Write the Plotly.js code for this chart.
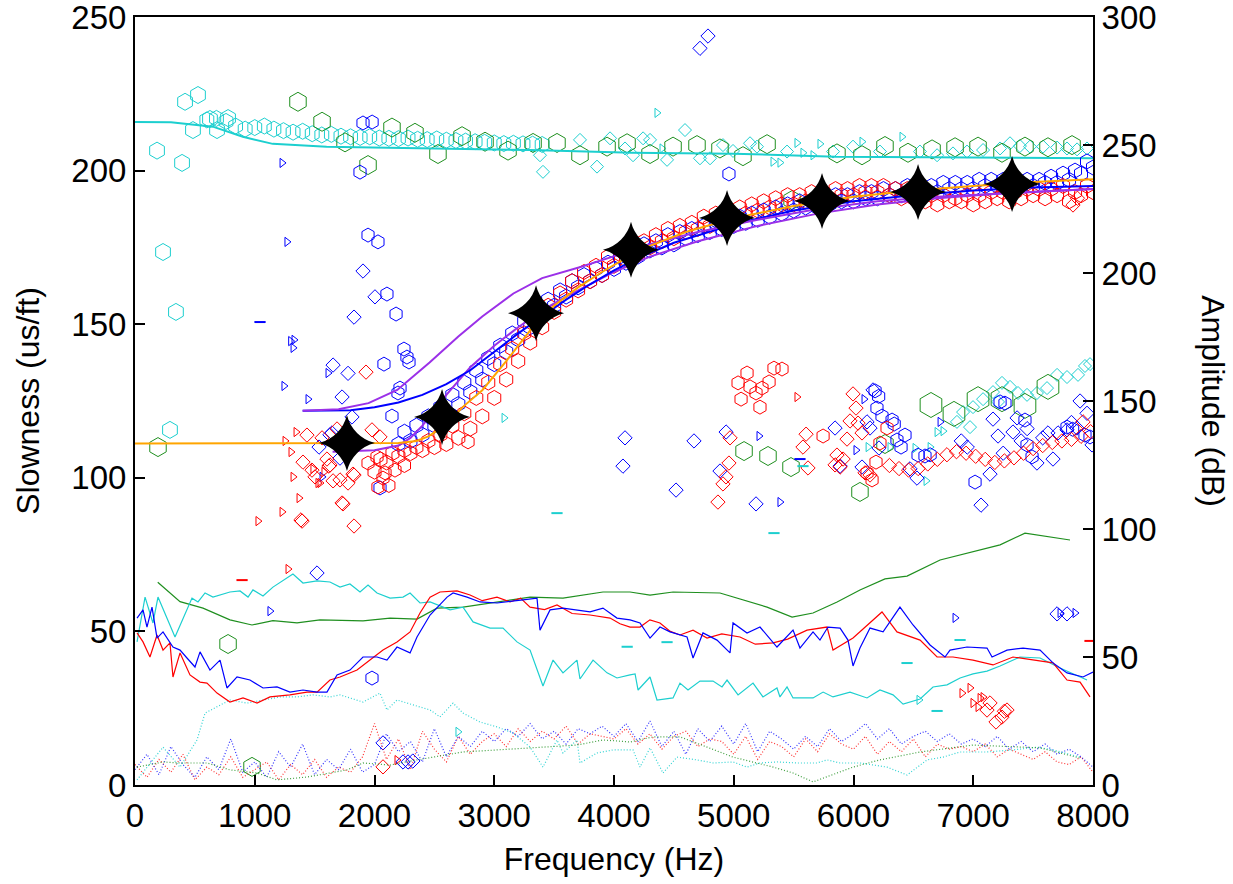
<!DOCTYPE html>
<html>
<head>
<meta charset="utf-8">
<script src="https://cdn.plot.ly/plotly-3.0.1.min.js"></script>
<style>html,body{margin:0;padding:0;background:#fff;}#chart{width:1233px;height:884px;}</style>
</head>
<body>
<div id="chart"></div>
<script>
// ---------- Amplitude spectra (right axis, dB) ----------
const ampRedF = [17,67,125,184,234,292,317,376,459,543,601,685,793,902,1019,1127,1294,1436,1520,1628,1712,1854,1962,2071,2188,2297,2380,2464,2547,2689,2798,2900,3023,3132,3220,3299,3420,3524,3650,3800,3967,4050,4134,4217,4300,4384,4470,4551,4660,4777,4900,5052,5180,5328,5450,5612,5779,5829,5996,6113,6238,6363,6556,6698,6831,6998,7165,7332,7499,7666,7783,7892,7975];
const ampRedV = [59.4,55.9,50.0,58.6,52.7,55.5,42.2,51.6,43.0,40.2,39.8,35.9,32.4,34.0,32.0,34.4,35.2,36.3,36.3,41.0,42.2,44.9,48.8,52.7,55.9,59.8,67.2,73.4,75.4,75.8,74.2,72.0,73.4,71.5,73.0,69.5,68.5,70.3,67.0,66.4,65.2,63.0,61.7,61.7,64.5,63.3,60.0,58.6,60.5,57.4,59.0,57.8,55.0,55.5,57.0,60.5,61.7,52.7,57.4,62.5,67.6,59.8,56.6,50.0,50.0,48.8,46.9,50.0,48.8,47.7,41.0,40.2,34.4];

const ampBlueF = [17,67,100,142,184,234,317,376,434,501,543,626,710,768,852,960,1069,1186,1294,1403,1520,1603,1687,1795,1904,2021,2104,2188,2297,2355,2464,2606,2656,2773,2881,3023,3240,3357,3382,3466,3574,3800,3908,4025,4134,4217,4301,4384,4468,4610,4660,4743,4860,4969,4994,5111,5219,5361,5495,5553,5662,5720,5787,5888,5954,5996,6054,6138,6247,6388,6497,6639,6764,6806,6948,7115,7157,7282,7416,7558,7666,7783,7917,8000];
const ampBlueV = [65.2,68.4,61.7,69.5,57.4,59.8,53.9,52.7,49.6,46.1,52.0,44.9,48.8,37.9,42.2,41.0,37.9,38.3,36.3,37.1,36.3,36.3,43.0,44.9,50.0,50.0,48.8,53.9,51.6,57.8,66.4,73.4,75.0,73.4,71.5,71.1,72.3,73.0,60.5,68.4,69.1,67.6,69.1,65.2,64.5,63.3,57.4,61.7,59.8,57.8,49.6,59.4,56.6,51.6,63.3,59.4,61.7,53.9,60.5,53.5,59.8,56.6,61.7,61.3,56.6,46.5,53.5,61.3,59.8,69.5,62.5,54.7,50.0,52.7,53.9,53.5,50.0,52.7,53.5,52.7,47.7,43.8,42.2,44.1];

const ampCyanF = [17,84,150,192,334,476,526,585,651,793,877,944,985,1069,1152,1319,1403,1520,1628,1712,1795,1879,1946,2021,2130,2238,2297,2380,2464,2572,2631,2739,2823,2965,3073,3190,3299,3407,3491,3574,3691,3716,3825,3942,4025,4134,4176,4201,4301,4359,4493,4551,4618,4718,4827,4902,4944,5036,5161,5244,5361,5386,5445,5495,5662,5746,5829,5971,6113,6221,6330,6414,6556,6664,6781,6890,6998,7115,7224,7390,7558,7725,7950];
const ampCyanV = [55.9,73.4,63.3,73.4,57.8,73.0,71.5,75.0,73.4,75.4,75.8,73.4,76.2,73.8,77.3,82.4,78.9,79.7,79.3,77.3,78.5,75.4,78.1,75.0,73.0,73.4,75.0,71.1,71.5,69.5,68.4,69.5,63.7,61.3,61.3,55.9,52.7,38.7,48.8,43.8,48.8,41.4,48.8,43.8,41.8,43.0,43.4,37.1,42.2,33.2,34.0,39.8,37.1,40.6,40.6,38.3,41.0,35.2,39.8,34.4,37.9,34.4,38.3,34.0,34.0,36.3,34.4,36.3,34.0,37.1,35.2,31.6,33.6,38.3,39.1,41.8,43.4,44.5,46.5,50.0,49.6,45.7,41.0];

const ampGreenF = [190,376,568,793,977,1152,1353,1545,1904,2130,2355,2522,2739,3023,3299,3574,3908,4134,4301,4493,4885,5278,5487,5662,5863,6054,6263,6447,6723,7224,7432,7808];
const ampGreenV = [79.2,71.6,69.1,64.5,62.5,64.2,63.3,64.5,64.1,65.2,64.8,69.1,69.5,71.5,73.4,73.0,75.4,75.4,74.2,75.4,75.0,69.5,65.6,67.2,71.5,76.2,80.5,81.6,87.9,93.8,98.4,95.7];

// noise spectra (dotted)
const noiseF = [0,100,200,300,400,500,600,700,800,900,1000,1100,1200,1300,1400,1500,1600,1700,1800,1900,2000,2100,2200,2300,2400,2500,2600,2700,2800,2900,3000,3100,3200,3300,3400,3500,3600,3700,3800,3900,4000,4100,4200,4300,4400,4500,4600,4700,4800,4900,5000,5100,5200,5300,5400,5500,5600,5700,5800,5900,6000,6100,6200,6300,6400,6500,6600,6700,6800,6900,7000,7100,7200,7300,7400,7500,7600,7700,7800,7900,8000];
const noiseRedV = [8,3,10,5,12,2,7,4,11,3,6,9,2,8,4,10,3,7,5,11,24,10,18,6,21,14,9,19,12,17,20,15,22,17,21,18,23,16,20,19,18,22,16,20,14,19,21,15,18,17,12,19,10,17,15,11,18,13,20,16,14,19,12,17,13,18,11,16,14,15,13,16,11,14,12,10,13,9,8,11,5];
const noiseBlueV = [6,12,4,15,8,3,11,6,18,5,9,3,13,7,16,4,10,6,14,5,8,20,13,17,9,22,11,19,15,21,17,22,19,24,18,21,16,22,20,23,19,24,17,25,15,21,12,22,17,23,16,24,13,21,18,14,19,15,22,17,20,24,18,22,16,19,21,17,20,16,18,15,19,14,17,13,16,12,14,11,7];
const noiseCyanF = [17,234,376,518,585,685,793,935,1069,1211,1353,1486,1628,1712,1904,2046,2104,2188,2322,2464,2547,2656,2739,2881,3023,3157,3299,3407,3524,3574,3691,3716,3858,3992,4159,4217,4301,4409,4526,4693,4827,4994,5111,5219,5361,5528,5695,5779,5888,6054,6280,6447,6614,6748,6890,7115,7332,7532,7666,7892];
const noiseCyanV = [2,14.8,7.0,17.6,28.1,30.5,33.2,32.0,33.2,34.4,34.4,35.2,34.4,35.2,32.4,35.9,29.3,33.2,31.3,29.3,26.6,32.0,28.1,24.6,22.7,20.3,14.8,7.0,17.6,12.5,17.6,8.6,12.5,13.7,13.7,7.0,14.5,4.7,10.9,9.8,8.6,9.0,7.0,8.6,9.0,8.6,8.6,9.8,8.6,8.6,7.0,3.9,9.8,10.9,12.9,12.9,13.7,14.8,13.7,10.9];
const noiseGreenF = [17,234,376,601,793,1019,1186,1436,1770,1904,2130,2355,2739,3299,3691,3908,4134,4326,4551,4777,4994,5328,5495,5662,5996,6221,6556,6998,7332,7558,7892];
const noiseGreenV = [7.0,9.0,8.6,8.6,5.9,4.7,2.0,3.1,5.9,8.6,7.8,9.8,12.9,14.5,15.6,17.6,16.8,18.8,18.8,14.8,10.9,7.0,4.7,1.2,7.0,9.8,12.9,15.6,14.8,14.5,10.5];

// ---------- Slowness (left axis, us/ft) ----------
const cyanLineF = [0,300,650,900,1150,1600,2500,3300,4150,5000,5850,7000,8000];
const cyanLineV = [215.8,215.7,214.3,211,208.7,207.8,207.2,206.7,205.8,205.5,204.5,204.2,204];

const cyanHexF = [600,680,760,840,920,1000,1080,1160,1240,1320,1400,1480,1560,1640,1720,1800,1880,1960,2040,2120,2200,2280,2360,2440,2520,2600,2680,2760,2840,2920,3000,3080,3160,3240,3320,3400];
const cyanHexV = [216.5,217,216,214.5,213.5,214,214.5,213.5,213,212.5,212.8,212,211.6,211.8,211.2,211,210.8,211,210.6,210.5,210.4,210.6,210.2,210.1,210.3,209.9,209.8,209.6,209.4,209.2,209,208.8,208.9,208.7,208.6,208.5];
const cyanHexBigF = [418,526,184,393,626,777,685,484,234,342,292];
const cyanHexBigV = [222.4,224.6,206.5,202.5,216.8,217.1,213.2,213.2,173.5,154,115.6];

const cyanDiaF = [3967,4092,4159,4243,4301,4443,4593,4718,4802,4910,4994,5136,5194,5445,5829,5996,6221,6555,6698,6831,6948,7082,7224,7307,7390,7474,7583,7700,7783,7867,7950,3407,3858,3716,3382,6864,6915,6998,7082,7165,7240,7307,7374,7449,7532,7616,7700,7783,7875,7933,7975,7207,6973];
const cyanDiaV = [210.5,207.2,205,210.5,210,203.5,213.2,204,204,208.3,206.4,208.9,207.8,206.2,206.2,207.8,206.2,206.2,205,205.6,206.2,206.7,207.2,208.9,208,207.8,207.8,207.5,207.2,206.9,207.2,199.6,201.3,210,205,118.2,121.4,123,125.6,127.9,130.9,129.6,127.6,127,127.6,129.2,133.5,132.8,133.5,136.4,137,124.7,116.5];
const cyanTriF = [6122,6305,6514,6606,6698,6748,6640,3082,2697,6547,4359,5528,5720,5328,5386,6405,5578,5662,4401,6071];
const cyanTriV = [110,110,109.7,99,114.9,115.2,110,119.5,17.3,27.7,218.8,209,208.7,202.9,202.6,211,205.8,205,207.2,209.4];

const greenHexF = [1361,1562,1754,1946,2146,2338,2530,2731,2923,3115,3324,3524,3716,3942,4109,4301,4493,4693,4885,5077,5278,5862,6071,6263,6455,6656,6848,7040,7240,7432,7624,7825,192,777,977,5086,5286,5478,6263,6054,5487];
const greenHexV = [222.4,215.9,209.2,201.8,214,212.3,205.4,211.2,209.4,206.5,209,209,205,207.8,208.9,205.4,207.8,208.3,207.2,204.7,208.6,205.6,205,208,205.8,206.9,207.6,207.8,205.8,207.8,207.6,208.3,110,45.9,5.9,108.7,107.1,103.5,111,95.4,190.4];
const greenHexBigF = [6647,6839,7040,7240,7432,7624];
const greenHexBigV = [123.7,120.8,125.6,125.6,123.4,129.6];

// dispersion picks
const redHexF = [2000,2100,2200,2300,2400,2500,2600,2700,2800,2900,3000,3100,3200,3300,3400,3500,3600,3700,3800,3900,4000,4100,4200,4300,4400,4500,4600,4700,4800,4900,5000,5100,5200,5300,5400,5500,5600,5700,5800,5900,6000,6100,6200,6300,6400,6500,6600,6700,6800,6900,7000,7100,7200,7300,7400,7500,7600,7700,7800,7900,8000];
const redHexV = [102,105,107,108,109,110,111,113,116,120,126,132,138,144,149,154,158,161,164,166,169,171,173,175,177,178,180,181,182,184,185,186,187,188,189,189,190,191,191,192,192,193,193,192,191,191,190,189,190,190,189,190,191,190,191,192,191,192,190,192,193];
const redHex2F = [2050,2150,2250,2350,2450,2550,2650,2750,2850,2950,3050,3150,3250,3350,3450,3550,3650,3750,3850,3950,4050,4150,4250,4350,4450,4550,4650,4750,4850,4950,5050,5150,5250,5350,5450,5550,5650,5750,5850,5950,6050,6150,6250,6350,6450,6550,6650,6750,6850,6950,7050,7150,7250,7350,7450,7550,7650,7750,7850,7950];
const redHex2V = [106,108,109,110,112,114,117,121,126,131,137,142,147,152,156,160,164,167,169,172,174,176,177,179,181,182,183,185,186,187,188,189,190,191,192,192,193,193,194,194,195,195,195,194,194,193,192,192,191,192,192,193,193,193,194,194,194,195,193,195];
const blueHexF = [2200,2300,2400,2500,2600,2700,2800,2900,3000,3100,3200,3300,3400,3500,3600,3700,3800,3900,4000,4100,4200,4300,4400,4500,4600,4700,4800,4900,5000,5100,5200,5300,5400,5500,5600,5700,5800,5900,6000,6100,6200,6300,6400,6500,6600,6700,6800,6900,7000,7100,7200,7300,7400,7500,7600,7700,7800,7900,8000];
const blueHexV = [111,112,114,117,120,124,128,132,137,141,145,149,153,156,159,162,164,166,168,170,172,174,175,176,178,179,180,181,182,183,184,185,186,187,188,188,189,190,190,191,191,192,192,193,193,193,194,194,194,195,195,195,195,195,196,196,197,199,201];
const blueHex2F = [2250,2350,2450,2550,2650,2750,2850,2950,3050,3150,3250,3350,3450,3550,3650,3750,3850,3950,4050,4150,4250,4350,4450,4550,4650,4750,4850,4950,5050,5150,5250,5350,5450,5550,5650,5750,5850,5950,6050,6150,6250,6350,6450,6550,6650,6750,6850,6950,7050,7150,7250,7350,7450,7550,7650,7750,7850,7950];
const blueHex2V = [115,117,120,123,127,131,135,139,143,147,151,155,158,161,164,166,168,170,172,174,176,177,179,180,181,182,183,184,185,186,187,188,189,190,190,191,192,192,193,193,194,194,195,195,195,196,196,196,197,197,197,197,197,197,198,199,200,203];

// scattered picks
const blueDiaF = [1904,2004,1829,1654,1779,1729,1812,1645,1537,1712,1628,1520,2071,2238,2280,2320,7783,7700,4668,4936,4885,5186,5846,6113,6138,5888,6071,6213,6163,6472,6530,7140,7065,7165,7207,7332,7366,7532,7666,7624,7708,7783,7866,7892,7992,4092,4075,4518,4718,4785,6900,6950,7250,7400,7450,7580,7820,7950];
const blueDiaV = [167.3,158.9,152.3,136.7,134,126.3,119.8,114.6,110,106.4,114,69,13.7,7.5,7.5,7.8,55.7,55.7,112,114.9,102.2,91.5,116.2,118.2,116.2,103.8,103.5,109.7,128.6,102.9,99.9,101.2,91.1,119.1,113.6,114.9,119.5,104.8,106.1,114.6,114.6,115.6,116.2,125,110.7,113,103.8,96,239.8,243.8,112,110,108,112,116,113,118,121];
const blueHexScF = [1946,2029,2104,2180,2246,2271,2288,2079,2213,2196,2146,2046,1904,1980,1879,4960,6180,6210,6196,6238,6322,6340,6430,6363,6397,6539,6597,6640,7015,7224,7265,7449,7491,7783,7830,7933,7975,7432,1979];
const blueHexScV = [179,176.8,159.8,153.3,141.9,139.3,137.7,137,129.2,127.6,120.1,96.7,215.5,215.8,199.5,198.9,128.3,126.5,122.7,120.1,118.8,117.5,113.9,112.3,110,107.4,107.1,107.5,98.6,124.7,124.3,110.7,106.8,116.5,115.8,113.9,113.3,118.8,34.8];
const blueTriF = [1269,1328,1300,1320,1244,1445,1612,1562,1228,6088,5211,5386,6723,6021,6848,7850,7725,1127];
const blueTriV = [176.8,144.9,144.5,142.3,129.9,125.6,134.1,100.3,202.5,125.6,113.6,92.1,118.2,109,54.4,56,56,56.6];

const redDiaF = [1929,1687,1562,1436,1979,1603,1620,1478,1503,1654,1712,1779,1829,1729,1829,1395,1403,2046,1628,1737,1386,1820,5996,6021,5971,6038,5946,6071,5862,5913,5846,5888,5604,5578,5620,4969,4960,4935,4910,4868,6096,6138,7917,7833,7870,7140,7115,7190,7240,7282,7260,2071];
const redDiaV = [134.4,115.9,113,113.9,115.6,106.1,103.8,102.5,100.3,99,99.3,98.3,100.9,91.8,84.3,85.9,105.1,113.3,104.2,91.5,86.3,101.2,127.3,122.7,118.5,117.8,112.6,114.6,107.4,106.1,104.2,103.5,114.2,110,103.2,113,104.8,100.3,98,92.1,101.6,100.9,118.2,188.8,191,26.7,24.4,20.5,22.1,24.4,24,5.9];
const redChainF = [6300,6380,6460,6540,6620,6700,6780,6860,6940,7020,7100,7180,7260,7340,7420,7500,7580,7660,7740,7820,7900,7980];
const redChainV = [104,103,102.5,103,104.5,106,107.5,108.5,108,107,106,105,105.5,106.5,108,109.5,110.5,111.5,112,112.5,113.5,115];
const redHexScF = [5111,5036,5136,5061,5186,5236,5295,5336,5403,5219,6280,6221,6188,6155,6113,5746,1946,2021,2088,2171,2071,2029,2781,2120,2250];
const redHexScV = [134.1,130.9,129.6,125.6,127.6,129.2,131.2,135.7,135.4,123,116.2,111.3,105.1,99.3,101.6,113.6,104.8,106.8,101.6,102.5,99.9,97,111.7,97.5,104];
const redTriF = [1253,1345,1303,1320,1370,1228,1027,1528,1486,1578,1545,5528,1278,2188,6906,6973,6998,7057,7082,7040];
const redTriV = [112,114.9,108.4,100.3,93.4,88.9,85.9,98.3,102.9,101.9,98.3,126.3,70.3,8.1,29.9,31.6,26.7,28.3,28.6,25.4];

const blueDashF = [1044,5553];
const blueDashV = [150.7,106.1];
const redDashF = [894,7975];
const redDashV = [66.7,46.9];
const cyanDashF = [3524,5336,4443,6890,6447,6698,5578,4110];
const cyanDashV = [88.5,82,46.5,47.2,39.7,24.1,103.8,45];

// model dispersion curves
const orangeF = [0,2200,2350,2450,2550,2650,2750,2900,3100,3300,3500,3700,3900,4100,4300,4600,5000,5500,6000,6500,7000,7500,8000];
const orangeV = [111.2,111.3,112,113.5,116,119.5,123.5,128.5,138,148,156,162,167,171.5,175.5,180,184.5,188.5,191.5,193.5,195,196.3,197.2];
const blueModelF = [1400,1800,2000,2200,2400,2600,2800,3000,3200,3400,3600,3800,4000,4200,4500,5000,5500,6000,6500,7000,7500,8000];
const blueModelV = [121.8,122,123,124.5,127,130.5,135,141,147,152.5,158,163,167.5,171.5,176.5,182.5,187,190,192,193.5,194.5,195];
const purpleAF = [1400,1700,1950,2190,2460,2700,2900,3160,3400,3720,3990,4300,4700,5200,5700,6200,6700,7200,7700,8000];
const purpleAV = [121.8,122.3,124.3,128.6,137.5,146,152.5,160,165,168.6,172,176,180,184,187.5,190,191.5,192.5,193.5,194];
const purpleBF = [1650,2000,2200,2300,2400,2500,2600,2800,3000,3200,3400,3600,3800,4000,4300,4700,5200,5700,6200,6700,7200,7700,8000];
const purpleBV = [108.5,109,110.5,113,117,122,127,136,143,149,154.5,159,163,167,172,177,182,186,189,191,192.5,193.5,194];

const starF = [1770,2564,3349,4142,4944,5737,6539,7324];
const starV = [111.3,119.8,153.6,174.2,184.6,190.1,193.0,195.6];

// ---------- traces ----------
const RED='#ff0000', BLUE='#0000ff', CYAN='#1ccfcf', GREEN='#1f8f1f', PURPLE='#9b30e8', ORANGE='#ffa500';
function ln(x,y,color,width,dash,axis,opacity){return {x:x,y:y,mode:'lines',yaxis:axis||'y',line:{color:color,width:width,dash:dash||'solid'},opacity:opacity||1,hoverinfo:'skip',showlegend:false};}
function mk(x,y,symbol,size,color,lw){return {x:x,y:y,mode:'markers',yaxis:'y',marker:{symbol:symbol,size:size,color:color,line:{color:color,width:lw||1}},hoverinfo:'skip',showlegend:false};}
const DOT='1px,2px';

const traces = [
  ln(noiseF,noiseRedV,RED,1.2,DOT,'y2',0.8),
  ln(noiseF,noiseBlueV,BLUE,1.2,DOT,'y2',0.8),
  ln(noiseCyanF,noiseCyanV,CYAN,1.2,DOT,'y2',0.9),
  ln(noiseGreenF,noiseGreenV,GREEN,1.2,DOT,'y2',0.85),
  ln(ampGreenF,ampGreenV,GREEN,1.2,'solid','y2'),
  ln(ampCyanF,ampCyanV,CYAN,1.2,'solid','y2'),
  ln(ampRedF,ampRedV,RED,1.2,'solid','y2'),
  ln(ampBlueF,ampBlueV,BLUE,1.2,'solid','y2'),
  mk(cyanHexF,cyanHexV,'hexagon-open',16,CYAN),
  mk(cyanHexBigF,cyanHexBigV,'hexagon-open',17,CYAN),
  mk(cyanDiaF,cyanDiaV,'diamond-open',10,CYAN),
  mk(cyanTriF,cyanTriV,'triangle-right-open',8,CYAN),
  mk(greenHexF,greenHexV,'hexagon-open',19,GREEN),
  mk(greenHexBigF,greenHexBigV,'hexagon-open',25,GREEN),
  ln(cyanLineF,cyanLineV,CYAN,2,'solid','y'),
  mk(blueDiaF,blueDiaV,'diamond-open',11,BLUE),
  mk(blueHexScF,blueHexScV,'hexagon-open',14,BLUE),
  mk(blueTriF,blueTriV,'triangle-right-open',8,BLUE),
  mk(redDiaF,redDiaV,'diamond-open',11,RED),
  mk(redChainF,redChainV,'diamond-open',11,RED),
  mk(redHexScF,redHexScV,'hexagon-open',14,RED),
  mk(redTriF,redTriV,'triangle-right-open',8,RED),
  mk(blueDashF,blueDashV,'line-ew',8,BLUE,2),
  mk(redDashF,redDashV,'line-ew',8,RED,2),
  mk(cyanDashF,cyanDashV,'line-ew',8,CYAN,2),
  mk(blueHexF,blueHexV,'hexagon-open',15,BLUE),
  mk(redHexF,redHexV,'hexagon-open',15,RED),
  mk(blueHex2F,blueHex2V,'hexagon-open',15,BLUE),
  mk(redHex2F,redHex2V,'hexagon-open',15,RED),
  ln(purpleBF,purpleBV,PURPLE,2,'solid','y'),
  ln(blueModelF,blueModelV,BLUE,2,'solid','y'),
  ln(purpleAF,purpleAV,PURPLE,2,'solid','y'),
  ln(orangeF,orangeV,ORANGE,2,'solid','y'),
  {x:starF,y:starV,mode:'markers',yaxis:'y',marker:{symbol:'star-diamond',size:40,color:'#000',line:{width:0}},hoverinfo:'skip',showlegend:false}
];

const TICKFONT = {family:'"Liberation Sans", Arial, Helvetica, sans-serif', size:33, color:'#000'};
const TITLEFONT = {family:'"Liberation Sans", Arial, Helvetica, sans-serif', size:32, color:'#000'};
const layout = {
  width:1233, height:884,
  margin:{l:135, r:140, t:17, b:99, pad:0},
  paper_bgcolor:'#fff', plot_bgcolor:'#fff',
  font:TICKFONT,
  showlegend:false,
  xaxis:{range:[0,8000], dtick:1000, tick0:0, showgrid:false, zeroline:false,
         showline:true, linecolor:'#000', linewidth:2, mirror:true,
         ticks:'inside', ticklen:10, tickwidth:2, tickcolor:'#000', ticklabeloverflow:'allow',
         tickfont:TICKFONT, title:{text:'Frequency (Hz)', font:TITLEFONT, standoff:15}},
  yaxis:{range:[0,250], dtick:50, tick0:0, showgrid:false, zeroline:false,
         showline:true, linecolor:'#000', linewidth:2,
         ticks:'inside', ticklen:10, tickwidth:2, tickcolor:'#000', ticklabeloverflow:'allow',
         tickfont:TICKFONT, title:{text:'Slowness (us/ft)', font:TITLEFONT, standoff:22}},
  yaxis2:{range:[0,300], dtick:50, tick0:0, overlaying:'y', side:'right', showgrid:false, zeroline:false,
          showline:true, linecolor:'#000', linewidth:2,
          ticks:'inside', ticklen:10, tickwidth:2, tickcolor:'#000', ticklabeloverflow:'allow', tickfont:TICKFONT},
  annotations:[{text:'Amplitude (dB)', xref:'paper', yref:'paper', x:1.125, y:0.5, xanchor:'center', yanchor:'middle', textangle:90, showarrow:false, font:TITLEFONT}]
};

Plotly.newPlot('chart', traces, layout, {staticPlot:true, displayModeBar:false});
</script>
</body>
</html>
